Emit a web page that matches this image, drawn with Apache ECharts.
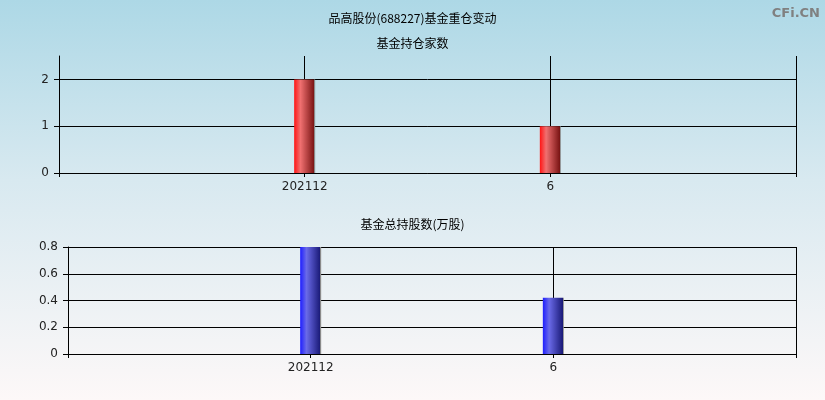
<!DOCTYPE html>
<html>
<head>
<meta charset="utf-8">
<script src="https://cdn.jsdelivr.net/npm/echarts@6/dist/echarts.min.js"></script>
<style>
html,body{margin:0;padding:0;}
#c{width:825px;height:400px;background:linear-gradient(to bottom,#add8e6 0%,#d8e9f0 45%,#fdf8f8 100%);}
</style>
</head>
<body>
<div id="c"></div>
<script>
const mainTitle = '品高股份(688227)基金重仓变动';
const topTitle = '基金持仓家数';
const bottomTitle = '基金总持股数(万股)';
const categories = ['', '202112', '6', ''];
const fundCount = [null, 2, 1, null];
const fundShares = [null, 0.8, 0.42, null];
const topTicks = [0, 1, 2];

const chart = echarts.init(document.getElementById('c'), null, {renderer: 'canvas'});
const font = '"DejaVu Sans","Noto Sans CJK SC",sans-serif';
const cjk = '"Noto Sans CJK SC",sans-serif';

function grad(c0, c1, c2) {
  return new echarts.graphic.LinearGradient(0, 0, 1, 0, [
    {offset: 0, color: c0},
    {offset: 0.3, color: c1},
    {offset: 0.95, color: c2},
    {offset: 0.96, color: '#8a8a8a'},
    {offset: 1, color: '#8a8a8a'}
  ]);
}

function xAxisCfg(idx) {
  return {
    type: 'category', gridIndex: idx, data: categories, boundaryGap: false,
    axisLine: {show: true, lineStyle: {color: '#000', width: 1}},
    axisTick: {show: true, length: 4, lineStyle: {color: '#000'}},
    axisLabel: {color: '#222', fontSize: 12, fontFamily: font, margin: 8},
    splitLine: {show: true, lineStyle: {color: '#000', width: 1}}
  };
}

chart.setOption({
  animation: false,
  title: [
    {text: mainTitle, left: 'center', top: 7, textStyle: {fontSize: 12, fontWeight: 'normal', color: '#000', fontFamily: cjk}},
    {text: topTitle, left: 'center', top: 32, textStyle: {fontSize: 12, fontWeight: 'normal', color: '#000', fontFamily: cjk}},
    {text: bottomTitle, left: 'center', top: 213, textStyle: {fontSize: 12, fontWeight: 'normal', color: '#000', fontFamily: cjk}},
    {text: 'CFi.CN', right: 0, top: 2, textStyle: {fontSize: 13, fontWeight: 'bold', color: '#808080', fontFamily: '"DejaVu Sans",sans-serif'}}
  ],
  grid: [
    {left: 59, right: 29, top: 56, height: 117},
    {left: 68, right: 29, top: 247, height: 107}
  ],
  xAxis: [xAxisCfg(0), xAxisCfg(1)],
  yAxis: [
    {
      type: 'value', gridIndex: 0, min: 0, max: 2.5, interval: 1,
      axisLine: {show: true, lineStyle: {color: '#000'}},
      axisTick: {show: true, length: 5, lineStyle: {color: '#000'}, customValues: topTicks},
      axisLabel: {color: '#222', fontSize: 12, fontFamily: font, margin: 10,
        formatter: v => (Number.isInteger(v) ? String(v) : '')},
      splitLine: {show: true, showMaxLine: false, lineStyle: {color: '#000'}}
    },
    {
      type: 'value', gridIndex: 1, min: 0, max: 0.8, interval: 0.2,
      axisLine: {show: true, lineStyle: {color: '#000'}},
      axisTick: {show: true, length: 5, lineStyle: {color: '#000'}},
      axisLabel: {color: '#222', fontSize: 12, fontFamily: font, margin: 10,
        formatter: v => (Math.round(v * 10) / 10).toString()},
      splitLine: {show: true, lineStyle: {color: '#000'}}
    }
  ],
  series: [
    {
      type: 'bar', xAxisIndex: 0, yAxisIndex: 0, data: fundCount, barWidth: 21,
      itemStyle: {color: grad('#ff1414', '#f07070', '#7a1414')},
      markLine: {
        silent: true, symbol: 'none', label: {show: false}, z: 0,
        lineStyle: {color: '#000', width: 1, type: 'solid'},
        data: topTicks.filter(t => t > 0).map(t => ({yAxis: t}))
      }
    },
    {
      type: 'bar', xAxisIndex: 1, yAxisIndex: 1, data: fundShares, barWidth: 21,
      itemStyle: {color: grad('#1e1eff', '#6a6ae8', '#1a1a78')}
    }
  ]
});
</script>
</body>
</html>
